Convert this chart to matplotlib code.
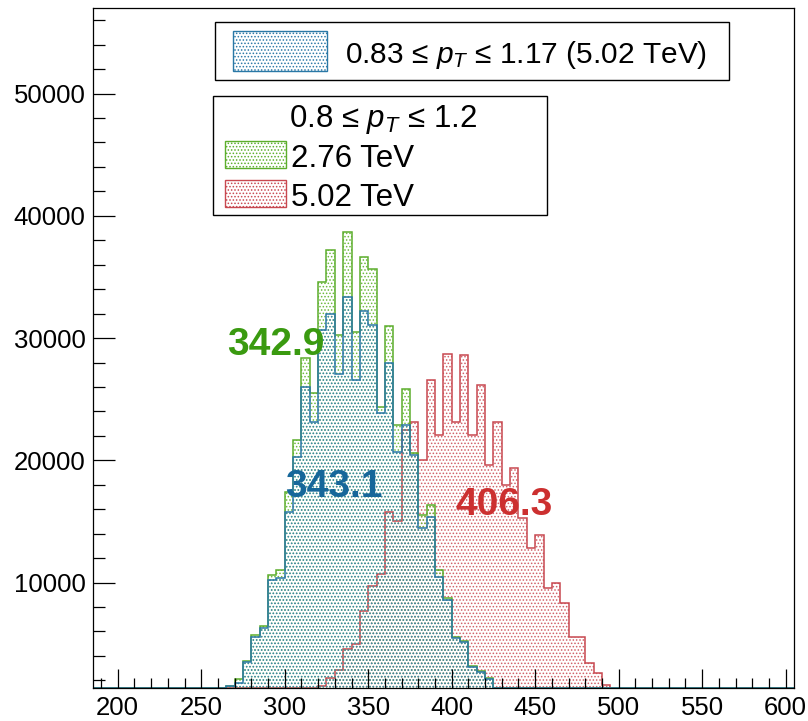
import numpy as np
import matplotlib
matplotlib.use('Agg')
import matplotlib.pyplot as plt
from matplotlib.patches import Rectangle

plt.rcParams['font.family'] = 'Liberation Sans'
plt.rcParams['mathtext.fontset'] = 'custom'
plt.rcParams['mathtext.rm'] = 'Liberation Sans'
plt.rcParams['mathtext.it'] = 'Liberation Sans:italic'
plt.rcParams['hatch.linewidth'] = 0.7

# histogram binning: 84 bins of width 5 from 185 to 605
edges = np.arange(185, 606, 5)

# 0.83 <= pT <= 1.17, 5.02 TeV (first bin starts at 265)
blue_start = 265
blue_counts = [1500, 1750, 3520, 5550, 6300, 10200, 10350, 15800, 20300, 26000,
               23100, 30700, 32000, 27100, 33380, 26560, 32240, 31100, 23850, 27930,
               20700, 22920, 20430, 14430, 15380, 10480, 8570, 5440, 5160, 3110,
               2700, 2150]

# 0.8 <= pT <= 1.2, 2.76 TeV
green_start = 265
green_counts = [1550, 2080, 3600, 5700, 6450, 10600, 11000, 17400, 21650, 28340,
                25500, 34600, 37200, 30250, 38650, 30500, 36600, 35620, 24400, 30980,
                22880, 25800, 20600, 15500, 16340, 11000, 8700, 5550, 5250, 3150,
                2750, 2200]

# 0.8 <= pT <= 1.2, 5.02 TeV
red_start = 320
red_counts = [1500, 2200, 2850, 4600, 4950, 7700, 9700, 10700, 15800, 15000,
              22500, 23150, 20000, 26560, 22070, 28700, 23150, 28610, 22070, 26200,
              19610, 23150, 17980, 19340, 15250, 12800, 13890, 9530, 9940, 8300,
              5570, 5570, 3390, 2570, 1650, 1400]

means = {'green': '342.9', 'blue': '343.1', 'red': '406.3'}

blue_c, blue_dot, blue_txt = '#2a78a6', '#3a86b0', '#16679a'
green_c, green_dot, green_txt = '#5cae2c', '#6cb83c', '#3a9a10'
red_c, red_dot, red_txt = '#c84850', '#d06068', '#cc3030'

ymin, ymax = 1400, 57000


def full_hist(start, counts):
    h = np.zeros(len(edges) - 1)
    i = (start - edges[0]) // 5
    h[i:i + len(counts)] = counts
    return h


fig = plt.figure(figsize=(8.08, 7.21), dpi=100)
ax = fig.add_axes([0.1147, 0.0462, 0.868, 0.9427])


def draw_hist(counts, start, line, dots):
    h = np.clip(full_hist(start, counts), ymin, None)
    ax.stairs(h, edges, baseline=ymin, fill=True, facecolor='none',
              edgecolor=dots, hatch='.....', linewidth=0)
    ax.stairs(h, edges, baseline=ymin, color=line, linewidth=1.1)


draw_hist(red_counts, red_start, red_c, red_dot)
draw_hist(green_counts, green_start, green_c, green_dot)
draw_hist(blue_counts, blue_start, blue_c, blue_dot)

ax.set_xlim(edges[0], edges[-1])
ax.set_ylim(ymin, ymax)
ax.set_xticks(np.arange(200, 601, 50))
ax.set_xticks(np.arange(190, 606, 10), minor=True)
ax.set_yticks(np.arange(10000, 50001, 10000))
ax.set_yticks(np.arange(2000, ymax, 2000), minor=True)
ax.tick_params(axis='x', which='major', direction='in', length=14, width=0.9,
               labelsize=18.5, pad=6)
ax.tick_params(axis='x', which='minor', direction='in', length=7, width=0.9)
ax.tick_params(axis='y', which='major', direction='in', length=16, width=0.9,
               labelsize=18.5, pad=5)
ax.tick_params(axis='y', which='minor', direction='in', length=8.5, width=0.9)
for s in ax.spines.values():
    s.set_linewidth(0.9)

# mean values
ax.text(265.3, 28600, means['green'], color=green_txt, fontsize=28,
        fontweight='bold', ha='left', va='baseline')
ax.text(300.2, 17020, means['blue'], color=blue_txt, fontsize=28,
        fontweight='bold', ha='left', va='baseline')
ax.text(402.1, 15520, means['red'], color=red_txt, fontsize=28,
        fontweight='bold', ha='left', va='baseline')

W, H = 808, 721


def box(x0, y0, x1, y1, **kw):
    fig.add_artist(Rectangle((x0 / W, 1 - y1 / H), (x1 - x0) / W, (y1 - y0) / H,
                             transform=fig.transFigure, **kw))


def label(x, y, s, size=22.5, **kw):
    fig.text(x / W, 1 - y / H, s, fontsize=size, va='baseline', **kw)


# legend for the narrow pT bin
box(215, 22, 729, 80, facecolor='white', edgecolor='black', linewidth=1)
box(233, 31, 327, 71, facecolor='none', edgecolor=blue_c, hatch='.....', linewidth=1)
label(345, 63, r'0.83 ≤ $p_T$ ≤ 1.17 (5.02 TeV)', size=21.5)

# legend for the wide pT bin
box(213, 96, 547, 215, facecolor='white', edgecolor='black', linewidth=1)
label(383, 127, r'0.8 ≤ $p_T$ ≤ 1.2', ha='center')
box(225, 141, 286, 168, facecolor='none', edgecolor=green_c, hatch='.....', linewidth=1)
label(291, 167, '2.76 TeV')
box(225, 180, 286, 207, facecolor='none', edgecolor=red_c, hatch='.....', linewidth=1)
label(291, 206, '5.02 TeV')

fig.savefig('out.png', dpi=100)
